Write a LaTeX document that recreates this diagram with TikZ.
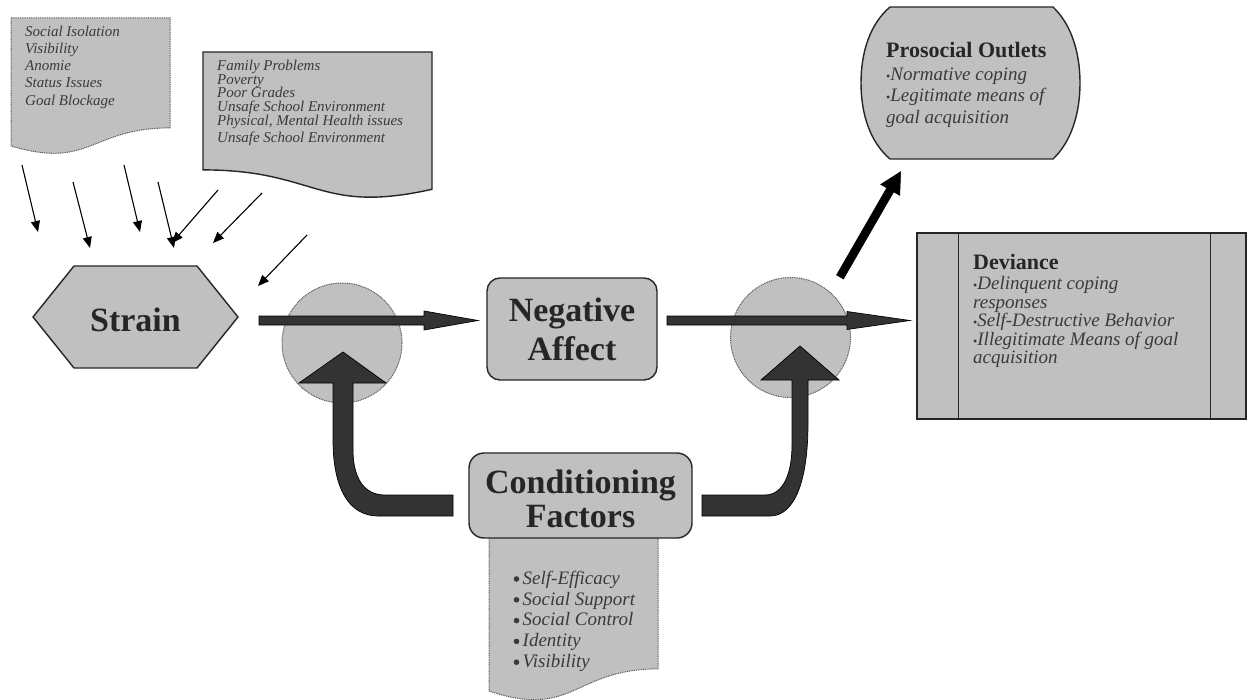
\documentclass[tikz,border=0pt]{standalone}
\usepackage{fontspec}
\setmainfont{Liberation Serif}
\usetikzlibrary{arrows.meta,calc}

\definecolor{shade}{HTML}{C0C0C0}
\definecolor{ink}{HTML}{262626}
\definecolor{soft}{HTML}{3A3A3A}
\definecolor{blockc}{HTML}{333333}
\definecolor{dotline}{HTML}{5A5A5A}

% straight block arrow from #2 to #3: shaft half width #4, head half width #5, head length #6
\newcommand\blockarrow[6][]{%
  \coordinate (bahead) at ($(#3)!#6!(#2)$);
  \path[#1] ($(#2)!#4!90:(#3)$) -- ($(bahead)!#4!90:(#3)$) -- ($(bahead)!#5!90:(#3)$)
    -- (#3) -- ($(bahead)!#5!-90:(#3)$) -- ($(bahead)!#4!-90:(#3)$)
    -- ($(#2)!#4!-90:(#3)$) -- cycle;}
% small raised bullet
\newcommand\smb{{\upshape\fontsize{12}{12}\selectfont•}}
% room left for a drawn bullet
\newcommand\bgap{\hspace*{10.5pt}}

\begin{document}
\begin{tikzpicture}[x=1pt,y=-1pt,
  solidbox/.style={fill=shade, draw=ink, line width=1.4pt},
  dotsheet/.style={fill=shade, draw=dotline, line width=1pt, dash pattern=on 1pt off 0.8pt},
  junction/.style={circle, fill=shade, draw=dotline, line width=1pt, dash pattern=on 1pt off 0.8pt, minimum size=120pt, inner sep=0pt},
  feed/.style={draw=black, line width=1.1pt, -{Triangle[length=11pt,width=9pt]}},
  blockstyle/.style={fill=blockc, draw=black, line width=0.7pt, line join=miter},
  boldarrow/.style={fill=black, draw=black, line width=0.5pt, line join=miter},
  bigtitle/.style={font=\fontsize{34}{39}\selectfont\bfseries, text=ink},
  subtitle/.style={font=\fontsize{22}{26}\selectfont\bfseries, text=ink, anchor=base west, inner sep=0pt},
  listtext/.style={anchor=north west, inner sep=0pt, align=left, text=soft},
  dot/.style={fill=soft},
]
\useasboundingbox (0,0) rectangle (1249,700);

% ---- sources of strain (document sheets) ----
\path[dotsheet] (11,18) -- (170,18) -- (170,127.9)
  .. controls (90.5,127.9) and (90.5,169.8) .. (11,146) -- cycle;
\node[listtext, font=\fontsize{15}{17.25}\selectfont\itshape] (srcA) at (25,23)
  {\rule{0pt}{13pt}Social Isolation\\Visibility\\Anomie\\Status Issues\\Goal Blockage};

\path[solidbox] (203,52) -- (432,52) -- (432,189.3)
  .. controls (317.5,214.9) and (317.5,169.9) .. (203,169.9) -- cycle;
\node[listtext, font=\fontsize{15}{13.9}\selectfont\itshape] (srcB) at (217,57)
  {\rule{0pt}{13pt}Family Problems\\Poverty\\Poor Grades\\Unsafe School Environment\\Physical, Mental Health issues\\[3pt]Unsafe School Environment};

% ---- thin arrows pointing at strain ----
\coordinate (s1) at (22,165);   \coordinate (e1) at (38,232);
\coordinate (s2) at (73,182);   \coordinate (e2) at (90,248);
\coordinate (s3) at (124,165);  \coordinate (e3) at (140,232);
\coordinate (s4) at (158,182);  \coordinate (e4) at (174,248);
\coordinate (s5) at (218,190);  \coordinate (e5) at (172,243);
\coordinate (s6) at (262,193);  \coordinate (e6) at (213,243);
\coordinate (s7) at (307,235);  \coordinate (e7) at (258,286);
\foreach \i in {1,...,7} {\draw[feed] (s\i) -- (e\i);}

% ---- strain ----
\path[solidbox] (33,317) -- (74,266) -- (197,266) -- (238,317) -- (197,368) -- (74,368) -- cycle;
\node[bigtitle, inner sep=0pt, text height=29.4pt, text depth=0pt] (strain) at (135.5,317) {Strain};

% ---- junctions ----
\node[junction] (j1) at (342,343) {};
\node[junction] (j2) at (790.5,337.5) {};

% ---- negative affect ----
\node[solidbox, rounded corners=13pt, minimum width=170pt, minimum height=102pt,
  inner sep=0pt, align=center, bigtitle] (na) at (572,329) {Negative\\Affect};

% ---- main flow ----
\coordinate (a1s) at (259,320.5); \coordinate (a1e) at (478,320.5);
\coordinate (a2s) at (667,320.5); \coordinate (a2e) at (910,320.5);
\blockarrow[blockstyle]{a1s}{a1e}{4.5pt}{9.5pt}{54pt}
\blockarrow[blockstyle]{a2s}{a2e}{4.5pt}{9pt}{63pt}

\coordinate (d1) at (840,277); \coordinate (d2) at (900.7,171.7);
\blockarrow[boldarrow]{d1}{d2}{4pt}{11pt}{21pt}

% ---- conditioning factors ----
\path[dotsheet] (489,535) -- (658,535) -- (658,668.9)
  .. controls (573.5,668.9) and (573.5,719.5) .. (489,691) -- cycle;
\node[solidbox, rounded corners=15pt, minimum width=223pt, minimum height=85pt,
  inner sep=0pt, align=center, bigtitle, font=\fontsize{34}{34.4}\selectfont\bfseries]
  (cf) at (580.5,495.5) {\rule{0pt}{30pt}Conditioning\\Factors};
\node[listtext, font=\fontsize{19}{20.8}\selectfont\itshape] (cflist) at (512,569)
  {\rule{0pt}{15pt}\bgap Self-Efficacy\\\bgap Social Support\\\bgap Social Control\\\bgap Identity\\\bgap Visibility};
\foreach \b in {584,604.8,625.6,646.4,667.2} {\fill[dot] (516.5,\b-5) circle (2.8);}

% curved feedback arrows into the junctions
\path[blockstyle] (453,495) -- (385,495) .. controls (362,495) and (353,475) .. (353,450)
  -- (353,383) -- (386,383) -- (343,352) -- (299,383) -- (333,383) -- (333,440)
  .. controls (333,490) and (350,516) .. (378,516) -- (453,516) -- cycle;
\path[blockstyle] (702,495) -- (765,495) .. controls (785,495) and (792,470) .. (792,445)
  -- (792,380) -- (761,380) -- (800,346) -- (839,380) -- (808,380) -- (808,423)
  .. controls (808,480) and (795,516) .. (770,516) -- (702,516) -- cycle;

% ---- prosocial outlets ----
\path[solidbox] (890,7) -- (1053,7) .. controls (1071,24) and (1080,52) .. (1080,83)
  .. controls (1080,114) and (1071,142) .. (1053,159) -- (890,159)
  .. controls (870,142) and (861,114) .. (861,83)
  .. controls (861,52) and (870,24) .. (890,7) -- cycle;
\node[subtitle] (pstitle) at (886,57.3) {Prosocial Outlets};
\node[listtext, font=\fontsize{19}{21.7}\selectfont\itshape] (pslist) at (886,65)
  {\rule{0pt}{15pt}\smb Normative coping\\\smb Legitimate means of\\goal acquisition};

% ---- deviance ----
\node[solidbox, rectangle, minimum width=329pt, minimum height=186pt, inner sep=0pt] (dev) at (1081.5,326) {};
\draw[ink, line width=1.4pt] ([xshift=42pt]dev.north west) -- ([xshift=42pt]dev.south west);
\draw[ink, line width=1.4pt] ([xshift=-36pt]dev.north east) -- ([xshift=-36pt]dev.south east);
\node[subtitle] (devtitle) at (973,270) {Deviance};
\node[listtext, font=\fontsize{19}{18.5}\selectfont\itshape] (devlist) at (973,274.5)
  {\rule{0pt}{15pt}\smb Delinquent coping\\responses\\\smb Self-Destructive Behavior\\\smb Illegitimate Means of goal\\acquisition};
\end{tikzpicture}
\end{document}
